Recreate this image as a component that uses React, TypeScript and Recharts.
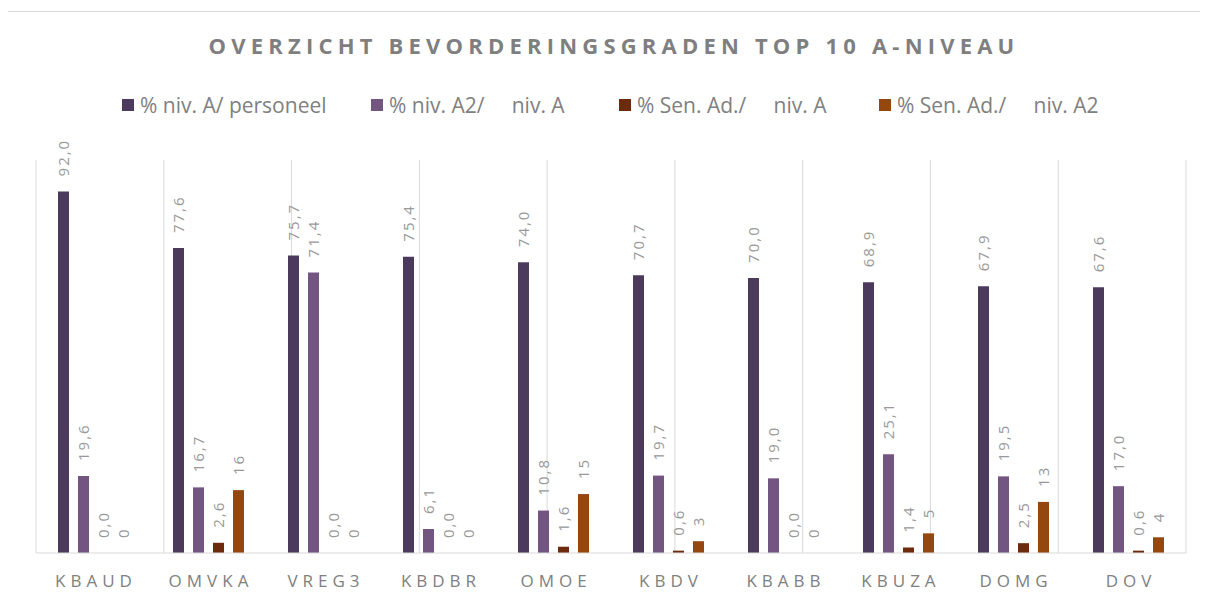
import { BarChart, Bar, XAxis, YAxis, CartesianGrid, Legend, LabelList } from 'recharts';

const categories = ['KBAUD', 'OMVKA', 'VREG3', 'KBDBR', 'OMOE', 'KBDV', 'KBABB', 'KBUZA', 'DOMG', 'DOV'];
const nivAPersoneel = [92.0, 77.6, 75.7, 75.4, 74.0, 70.7, 70.0, 68.9, 67.9, 67.6];
const nivA2NivA = [19.6, 16.7, 71.4, 6.1, 10.8, 19.7, 19.0, 25.1, 19.5, 17.0];
const senAdNivA = [0.0, 2.6, 0.0, 0.0, 1.6, 0.6, 0.0, 1.4, 2.5, 0.6];
const senAdNivA2 = [0, 16, 0, 0, 15, 3, 0, 5, 13, 4];
const gridTicks = [0, 1, 2, 3, 4, 5, 6, 7, 8, 9, 10];

const series = [
  { key: 'a', name: '% niv. A/ personeel', color: '#4b3a5c', decimals: 1, legendWidth: 249 },
  { key: 'a2', name: '% niv. A2/     niv. A', color: '#735581', decimals: 1, legendWidth: 248 },
  { key: 'sa', name: '% Sen. Ad./     niv. A', color: '#6d2a0d', decimals: 1, legendWidth: 260 },
  { key: 'sa2', name: '% Sen. Ad./     niv. A2', color: '#94470f', decimals: 0, legendWidth: 240 },
];

const data = categories.map((name, i) => ({
  name,
  a: nivAPersoneel[i],
  a2: nivA2NivA[i],
  sa: senAdNivA[i],
  sa2: senAdNivA2[i],
}));

const FONT = '"Open Sans", "Noto Sans", sans-serif';
const GREY = '#808080';

function fmt(v: number, decimals: number) {
  return decimals ? v.toFixed(decimals).replace('.', ',') : String(v);
}

function CategoryTick({ x, y, payload }: any) {
  return (
    <text x={x + 2.5} y={y + 26} textAnchor="middle" fill={GREY} fontSize={17} fontFamily={FONT} letterSpacing={5}>
      {payload.value}
    </text>
  );
}

function makeLabel(decimals: number) {
  return (props: any) => {
    const { x, y, width, value } = props;
    const cx = x + width / 2;
    const cy = y - 15;
    return (
      <text
        x={cx}
        y={cy}
        transform={`rotate(-90 ${cx} ${cy})`}
        textAnchor="start"
        dominantBaseline="central"
        fill="#999999"
        fontSize={15}
        fontFamily={FONT}
        letterSpacing={2}
      >
        {fmt(value, decimals)}
      </text>
    );
  };
}

function LegendContent() {
  return (
    <div style={{ display: 'flex', paddingLeft: 122, fontFamily: FONT, fontSize: 21, color: GREY }}>
      {series.map((s) => (
        <div key={s.key} style={{ display: 'flex', alignItems: 'center', whiteSpace: 'pre', width: s.legendWidth }}>
          <span style={{ display: 'inline-block', width: 12, height: 12, background: s.color, marginRight: 6 }} />
          {s.name}
        </div>
      ))}
    </div>
  );
}

export default function App() {
  return (
    <div style={{ position: 'relative', width: 1208, height: 603, margin: -8, overflow: 'hidden', background: '#fff' }}>
      <div
        style={{
          position: 'absolute',
          left: 7,
          top: 11,
          width: 1400,
          height: 800,
          border: '1px solid #d9d9d9',
        }}
      />
      <div
        style={{
          position: 'absolute',
          top: 30,
          left: 0,
          width: 1208,
          textAlign: 'center',
          fontFamily: FONT,
          fontSize: 22,
          fontWeight: 700,
          letterSpacing: 5.2,
          color: '#7f7f7f',
          paddingLeft: 10,
        }}
      >
        OVERZICHT BEVORDERINGSGRADEN TOP 10 A-NIVEAU
      </div>
      <div style={{ position: 'absolute', left: 0, top: 0 }}>
        <BarChart
          width={1208}
          height={603}
          data={data}
          margin={{ top: 160, right: 22, left: 36, bottom: 10 }}
          barGap={9}
          barSize={11}
        >
          <XAxis xAxisId="grid" type="number" domain={[0, 10]} ticks={gridTicks} hide />
          <CartesianGrid xAxisId="grid" horizontal={false} vertical stroke="#d9d9d9" />
          <XAxis
            dataKey="name"
            height={40}
            axisLine={{ stroke: '#d9d9d9' }}
            tickLine={false}
            tick={<CategoryTick />}
            interval={0}
          />
          <YAxis hide domain={[0, 100]} />
          <Legend
            verticalAlign="middle"
            wrapperStyle={{ top: 91, left: 0, width: 1208 }}
            content={<LegendContent />}
          />
          {series.map((s) => (
            <Bar
              key={s.key}
              dataKey={s.key}
              name={s.name}
              fill={s.color}
              minPointSize={0.01}
              isAnimationActive={false}
            >
              <LabelList dataKey={s.key} content={makeLabel(s.decimals)} />
            </Bar>
          ))}
        </BarChart>
      </div>
    </div>
  );
}
